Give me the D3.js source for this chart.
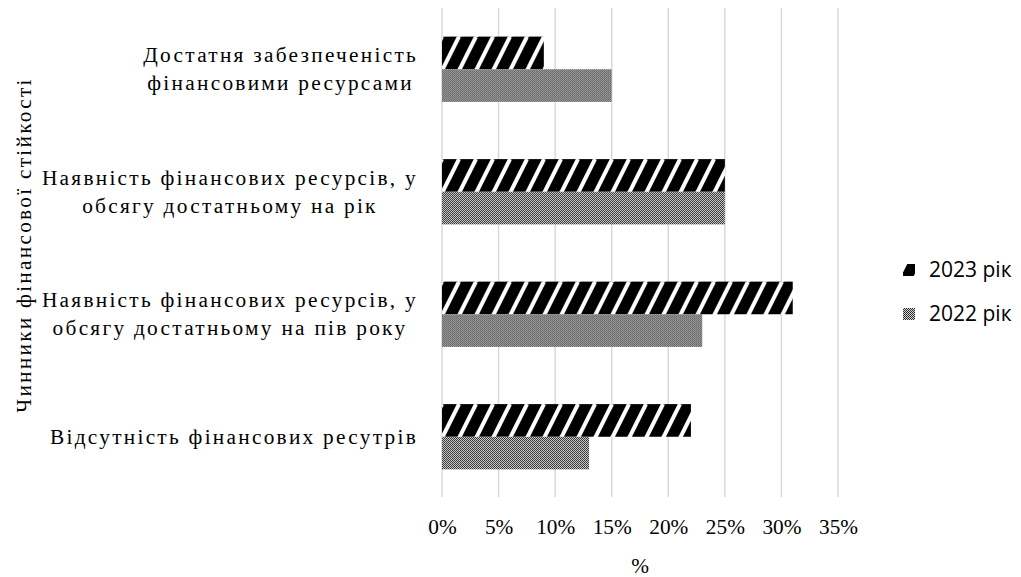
<!DOCTYPE html>
<html>
<head>
<meta charset="utf-8">
<script src="https://cdn.jsdelivr.net/npm/d3@7"></script>
<style>
  body { margin: 0; background: #fff; }
</style>
</head>
<body>
<div id="chart-area"></div>
<script>

// SVG Size
var width = 1021,
    height = 577;

// Data (top to bottom as drawn)
var categories = [
  "Достатня забезпеченість\nфінансовими ресурсами",
  "Наявність фінансових ресурсів, у\nобсягу достатньому на рік",
  "Наявність фінансових ресурсів, у\nобсягу достатньому на пів року",
  "Відсутність фінансових ресутрів"
];
var seriesNames = ["2023 рік", "2022 рік"];
var values2023 = [9, 25, 31, 22];
var values2022 = [15, 25, 23, 13];
var xTicks = [0, 5, 10, 15, 20, 25, 30, 35];

var serifFont = "'Tinos', 'FreeSerif', serif";
var sansFont = "'Open Sans', 'Liberation Sans', sans-serif";

function serif(sel) {
  return sel.style("font-family", serifFont)
    .style("font-size", "21.3px")
    .style("fill", "#000");
}

var rows = categories.map(function(c, i) {
  return { cat: c, vals: [values2023[i], values2022[i]] };
});

var svg = d3.select("#chart-area").append("svg")
  .attr("width", width)
  .attr("height", height);

// the Cyrillic fallback face is narrower than Times, so widen it by letter spacing
var probe = serif(svg.append("text")).text("Відсутність фінансових ресутрів");
var probeW = probe.node().getComputedTextLength();
probe.remove();
var ls = Math.max(0, Math.min(3, (368 - probeW) / 31));

// patterns
var defs = svg.append("defs");

var stripes = defs.append("pattern")
  .attr("id", "pat2023")
  .attr("patternUnits", "userSpaceOnUse")
  .attr("width", 17)
  .attr("height", 34);
stripes.append("rect").attr("width", 17).attr("height", 34).attr("fill", "#000");
[-17, 0, 17].forEach(function(o) {
  stripes.append("line")
    .attr("x1", o).attr("y1", 34)
    .attr("x2", o + 17).attr("y2", 0)
    .attr("stroke", "#fff")
    .attr("stroke-width", 4);
});

var dots = defs.append("pattern")
  .attr("id", "pat2022")
  .attr("patternUnits", "userSpaceOnUse")
  .attr("width", 2)
  .attr("height", 2);
dots.append("rect").attr("width", 2).attr("height", 2).attr("fill", "#d8d8d8");
dots.append("rect").attr("x", 0).attr("y", 0).attr("width", 1).attr("height", 1).attr("fill", "#222");
dots.append("rect").attr("x", 1).attr("y", 1).attr("width", 1).attr("height", 1).attr("fill", "#333");

var fills = ["url(#pat2023)", "url(#pat2022)"];

// scales
var xScale = d3.scaleLinear()
  .domain([0, 35])
  .range([442, 838]);

var yScale = d3.scaleBand()
  .domain(categories)
  .range([8, 498])
  .paddingInner(0.467)
  .paddingOuter(0.2335);

var ySub = d3.scaleBand()
  .domain([0, 1])
  .range([0, yScale.bandwidth()]);

// gridlines
svg.append("g")
  .selectAll("line")
  .data(xTicks)
  .enter()
  .append("line")
  .attr("x1", function(d) { return xScale(d); })
  .attr("x2", function(d) { return xScale(d); })
  .attr("y1", 8)
  .attr("y2", 497)
  .attr("stroke", "#d9d9d9")
  .attr("stroke-width", 1.5);

// x axis labels
var xAxis = d3.axisBottom(xScale)
  .tickValues(xTicks)
  .tickFormat(function(d) { return d + "%"; })
  .tickSize(0)
  .tickPadding(0);

var xg = svg.append("g")
  .attr("transform", "translate(0,519)")
  .call(xAxis);
xg.select(".domain").remove();
serif(xg.selectAll("text").attr("dy", "0.71em"));

// bars
var groups = svg.append("g")
  .selectAll("g")
  .data(rows)
  .enter()
  .append("g")
  .attr("transform", function(d) { return "translate(0," + yScale(d.cat) + ")"; });

groups.selectAll("rect")
  .data(function(d) { return d.vals; })
  .enter()
  .append("rect")
  .attr("x", xScale(0))
  .attr("y", function(d, i) { return ySub(i); })
  .attr("width", function(d) { return xScale(d) - xScale(0); })
  .attr("height", ySub.bandwidth())
  .attr("fill", function(d, i) { return fills[i]; });

// category labels, lines centred inside a right-aligned block
var lineH = 28.4;
var labelRight = 418;
categories.forEach(function(c) {
  var lines = c.split("\n");
  var cy = yScale(c) + yScale.bandwidth() / 2;
  var t = serif(svg.append("text"))
    .style("letter-spacing", ls + "px")
    .attr("text-anchor", "middle");
  lines.forEach(function(l, i) {
    t.append("tspan")
      .attr("y", cy + 7 - (lines.length - 1) * lineH / 2 + i * lineH)
      .text(l);
  });
  var maxW = 0;
  t.selectAll("tspan").each(function() {
    maxW = Math.max(maxW, this.getComputedTextLength());
  });
  t.selectAll("tspan").attr("x", labelRight - maxW / 2);
});

// axis titles
serif(svg.append("text"))
  .attr("text-anchor", "middle")
  .attr("x", 640)
  .attr("y", 573)
  .text("%");

serif(svg.append("text"))
  .style("letter-spacing", ls + "px")
  .attr("text-anchor", "middle")
  .attr("transform", "translate(31,245) rotate(-90)")
  .text("Чинники фінансової стійкості");

// legend
var legendY = [264, 308];
seriesNames.forEach(function(name, i) {
  svg.append("rect")
    .attr("x", 903)
    .attr("y", legendY[i])
    .attr("width", 12)
    .attr("height", 12)
    .attr("fill", fills[i]);
  svg.append("text")
    .attr("x", 929)
    .attr("y", legendY[i] + 13)
    .style("font-family", sansFont)
    .style("font-size", "21px")
    .style("fill", "#000")
    .text(name);
});

</script>
</body>
</html>
